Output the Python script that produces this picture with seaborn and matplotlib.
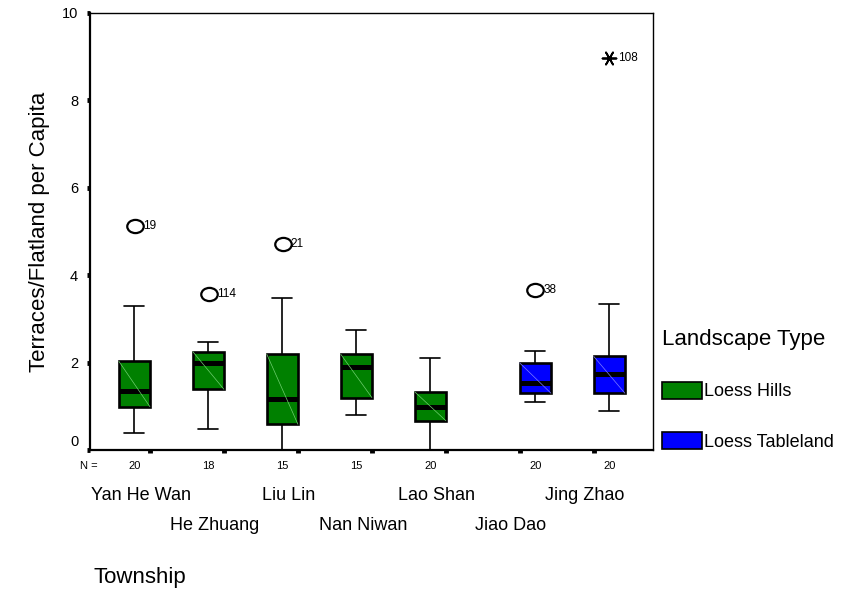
import numpy as np
import pandas as pd
import matplotlib
matplotlib.use('Agg')
import matplotlib.pyplot as plt
import seaborn as sns
from matplotlib.markers import MarkerStyle
from matplotlib.patches import Patch
from matplotlib.transforms import Affine2D, ScaledTranslation, blended_transform_factory

# ---- data ----
townships = ['Yan He Wan', 'He Zhuang', 'Liu Lin', 'Nan Niwan', 'Lao Shan', 'Jiao Dao', 'Jing Zhao']
landscape = ['Loess Hills'] * 5 + ['Loess Tableland'] * 2
n_cases = [20, 18, 15, 15, 20, 20, 20]

whisker_low = [0.40, 0.48, 0.00, 0.81, 0.00, 1.10, 0.89]
q1 = [0.99, 1.39, 0.59, 1.20, 0.67, 1.30, 1.30]
median = [1.35, 1.98, 1.17, 1.90, 0.98, 1.54, 1.75]
q3 = [2.03, 2.25, 2.19, 2.19, 1.33, 1.99, 2.14]
whisker_high = [3.29, 2.48, 3.48, 2.74, 2.10, 2.26, 3.34]

outlier_town = ['Yan He Wan', 'He Zhuang', 'Liu Lin', 'Jiao Dao']
outlier_value = [5.12, 3.58, 4.72, 3.66]
outlier_case = ['19', '114', '21', '38']

extreme_town = ['Jing Zhao']
extreme_value = [8.97]
extreme_case = ['108']

hue_order = ['Loess Hills', 'Loess Tableland']
palette = {'Loess Hills': '#008000', 'Loess Tableland': '#0000ff'}
stripe = {'Loess Hills': '#6fcf6f', 'Loess Tableland': '#7f7fff'}

# five-number summary per township -> long table for seaborn
rows = []
for t, l, a, b, c, d, e in zip(townships, landscape, whisker_low, q1, median, q3, whisker_high):
    for v in (a, b, c, d, e):
        rows.append({'Township': t, 'Landscape Type': l, 'value': v})
df = pd.DataFrame(rows)

land_of = dict(zip(townships, landscape))
out_df = pd.DataFrame({'Township': outlier_town,
                       'Landscape Type': [land_of[t] for t in outlier_town],
                       'value': outlier_value})
ext_df = pd.DataFrame({'Township': extreme_town,
                       'Landscape Type': [land_of[t] for t in extreme_town],
                       'value': extreme_value})

sns.set_style('white')
plt.rcParams['font.family'] = ['Liberation Sans', 'DejaVu Sans']
plt.rcParams['text.color'] = 'black'
plt.rcParams['xtick.color'] = 'black'
plt.rcParams['ytick.color'] = 'black'
plt.rcParams['axes.labelcolor'] = 'black'

fig = plt.figure(figsize=(8.43, 5.92), dpi=100)
ax = fig.add_axes([90 / 843, 142 / 592, 563 / 843, 437 / 592])

sns.boxplot(data=df, x='Township', y='value', hue='Landscape Type',
            order=townships, hue_order=hue_order, palette=palette,
            saturation=1, dodge=True, width=0.84, whis=(0, 100),
            linecolor='black', linewidth=1.2,
            boxprops={'linewidth': 1.9}, medianprops={'linewidth': 3.6},
            legend=False, ax=ax)

# widen whisker caps a little (SPSS caps are ~60% of box width)
for ln in ax.lines:
    xd = np.asarray(ln.get_xdata(), dtype=float)
    yd = np.asarray(ln.get_ydata(), dtype=float)
    if len(xd) == 2 and yd[0] == yd[1] and 0 < abs(xd[1] - xd[0]) < 0.3:
        mid = xd.mean()
        ln.set_xdata(mid + (xd - mid) * 1.3)

# SPSS style thin diagonal inside each box + box centres
centers = {}
for p in list(ax.patches):
    ext = p.get_path().get_extents()
    cx = (ext.x0 + ext.x1) / 2
    fc = p.get_facecolor()
    key = 'Loess Hills' if fc[1] > fc[2] else 'Loess Tableland'
    ax.plot([ext.x0, ext.x1], [ext.y1, ext.y0], color=stripe[key], lw=0.5, zorder=p.get_zorder() + 0.1)
    centers[townships[int(round(cx))]] = cx

circle = MarkerStyle('o', transform=Affine2D().scale(1.25, 1.0))
sns.stripplot(data=out_df, x='Township', y='value', hue='Landscape Type',
              order=townships, hue_order=hue_order,
              palette={h: 'white' for h in hue_order}, dodge=True, jitter=False,
              marker=circle, size=9.5, edgecolor='black', linewidth=1.6,
              legend=False, ax=ax)
sns.stripplot(data=ext_df, x='Township', y='value', hue='Landscape Type',
              order=townships, hue_order=hue_order,
              palette={h: 'black' for h in hue_order}, dodge=True, jitter=False,
              marker=(6, 2, 90), size=10, linewidth=1.3,
              legend=False, ax=ax)

for t, v, c in zip(outlier_town + extreme_town, outlier_value + extreme_value, outlier_case + extreme_case):
    ax.annotate(c, xy=(centers[t], v), xytext=(6, 0), textcoords='offset points',
                ha='left', va='center', fontsize=8.5)

# axes, ticks
pos = np.arange(len(townships))
ax.set_xlim(-0.81, 6.8)
ax.set_ylim(0, 10)
ax.set_xlabel('')
ax.set_ylabel('')
ax.set_yticks([0, 2, 4, 6, 8, 10])
ax.set_yticklabels(['0', '2', '4', '6', '8', '10'], fontsize=10.5)
ax.set_xticks(pos)
ax.set_xticklabels([])
ax.set_xticks(pos - 0.12, minor=True)
ax.set_xticklabels(townships, minor=True, fontsize=13)
ax.tick_params(axis='both', which='major', direction='out', length=2.5, width=3.5,
               color='black', bottom=True, left=True)
ax.tick_params(axis='y', which='major', pad=6)
ax.tick_params(axis='x', which='minor', length=0, pad=27, bottom=True)

for i, lab in enumerate(ax.get_xticklabels(minor=True)):
    if i % 2 == 1:
        lab.set_transform(lab.get_transform() + ScaledTranslation(0, -0.29, fig.dpi_scale_trans))
zero_lab = ax.get_yticklabels()[0]
zero_lab.set_transform(zero_lab.get_transform() + ScaledTranslation(0, 0.10, fig.dpi_scale_trans))

for side in ['left', 'bottom']:
    ax.spines[side].set_linewidth(1.6)
for side in ['top', 'right']:
    ax.spines[side].set_linewidth(1.0)
for s in ax.spines.values():
    s.set_color('black')

# N = row
trans = blended_transform_factory(ax.transData, ax.transAxes)
ax.annotate('N =', xy=(0, 0), xycoords='axes fraction', xytext=(-1, -11.5),
            textcoords='offset points', ha='center', va='center', fontsize=8,
            annotation_clip=False)
for t, n in zip(townships, n_cases):
    ax.annotate(str(n), xy=(centers[t], 0), xycoords=trans, xytext=(0, -11.5),
                textcoords='offset points', ha='center', va='center', fontsize=8,
                annotation_clip=False)

fig.text(40 / 843, 1 - 231.5 / 592, 'Terraces/Flatland per Capita', rotation=90,
         ha='center', va='center', fontsize=16)
fig.text(93 / 843, 1 - 577 / 592, 'Township', ha='left', va='center', fontsize=16)

handles = [Patch(facecolor=palette[h], edgecolor='black', linewidth=1.2) for h in hue_order]
fig.legend(handles, hue_order, title='Landscape Type', loc='upper left',
           bbox_to_anchor=(662 / 843, 1 - 329 / 592), frameon=False,
           fontsize=13, title_fontsize=16, handlelength=2.2, handleheight=1.1,
           handletextpad=0.1, labelspacing=1.75, borderpad=0, borderaxespad=0,
           alignment='left')

fig.savefig('out.png', dpi=100)
